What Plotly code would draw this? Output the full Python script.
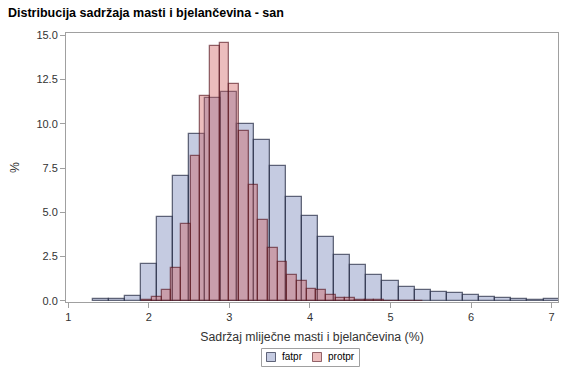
import plotly.graph_objects as go

# fatpr histogram (bin width 0.2), percentages
fat_x = [1.4, 1.6, 1.8, 2.0, 2.2, 2.4, 2.6, 2.8, 3.0, 3.2, 3.4, 3.6, 3.8, 4.0, 4.2,
         4.4, 4.6, 4.8, 5.0, 5.2, 5.4, 5.6, 5.8, 6.0, 6.2, 6.4, 6.6, 6.8, 7.0]
fat_y = [0.1, 0.1, 0.28, 2.1, 4.75, 7.05, 9.4, 11.45, 11.77, 9.97, 9.06, 7.61, 5.85, 4.78, 3.59,
         2.58, 2.01, 1.45, 1.11, 0.77, 0.6, 0.52, 0.42, 0.32, 0.25, 0.15, 0.1, 0.04, 0.1]

# protpr histogram (bin width 0.12), percentages
prot_x = [1.98, 2.10, 2.22, 2.34, 2.46, 2.58, 2.70, 2.82, 2.94, 3.06, 3.18, 3.30, 3.42, 3.54, 3.66,
          3.78, 3.90, 4.02, 4.14, 4.26, 4.38, 4.50, 4.62, 4.74, 4.86, 4.98, 5.10, 5.22, 5.34]
prot_y = [0.05, 0.25, 0.6, 1.85, 4.35, 8.2, 11.55, 14.38, 14.53, 12.22, 9.57, 6.52, 4.55, 2.97, 2.18,
          1.45, 1.11, 0.66, 0.6, 0.32, 0.15, 0.15, 0.04, 0.04, 0.04, 0.02, 0.02, 0.02, 0.02]

series_names = ["fatpr", "protpr"]
y_ticks = [0, 2.5, 5, 7.5, 10, 12.5, 15]
x_ticks = [1, 2, 3, 4, 5, 6, 7]

FAT_FILL = "rgba(111,126,179,0.4)"
FAT_LINE = "rgba(40,46,70,0.7)"
PROT_FILL = "rgba(208,91,91,0.4)"
PROT_LINE = "rgba(80,15,25,0.6)"

W, H = 566, 377
ML, MR, MT, MB = 66, 8, 33, 75
PW, PH = W - ML - MR, H - MT - MB


def px_x(px):
    return (px - ML) / PW


def px_y(py):
    return (H - MB - py) / PH


fig = go.Figure()
fig.add_trace(go.Bar(
    x=fat_x, y=fat_y, width=0.2, name=series_names[0],
    marker=dict(color=FAT_FILL, line=dict(color=FAT_LINE, width=1.3)),
))
fig.add_trace(go.Bar(
    x=prot_x, y=prot_y, width=0.12, name=series_names[1],
    marker=dict(color=PROT_FILL, line=dict(color=PROT_LINE, width=1.3)),
))

font = "Liberation Sans, Arial, sans-serif"

# compact legend drawn as a box with swatches and real text labels
shapes = [
    dict(type="rect", xref="paper", yref="paper",
         x0=px_x(261.5), x1=px_x(359.5), y0=px_y(366.5), y1=px_y(348.5),
         line=dict(color="#A0A0A0", width=1), fillcolor="white", layer="above"),
    dict(type="rect", xref="paper", yref="paper",
         x0=px_x(266.5), x1=px_x(275.5), y0=px_y(361.5), y1=px_y(352.5),
         line=dict(color=FAT_LINE, width=1), fillcolor=FAT_FILL, layer="above"),
    dict(type="rect", xref="paper", yref="paper",
         x0=px_x(312.5), x1=px_x(321.5), y0=px_y(361.5), y1=px_y(352.5),
         line=dict(color=PROT_LINE, width=1), fillcolor=PROT_FILL, layer="above"),
]
annotations = [
    dict(text=series_names[0], xref="paper", yref="paper", x=px_x(280), y=px_y(357),
         xanchor="left", yanchor="middle", showarrow=False,
         font=dict(family=font, size=10, color="black")),
    dict(text=series_names[1], xref="paper", yref="paper", x=px_x(326), y=px_y(357),
         xanchor="left", yanchor="middle", showarrow=False,
         font=dict(family=font, size=10, color="black")),
]

fig.update_layout(
    barmode="overlay",
    width=W, height=H,
    margin=dict(l=ML, r=MR, t=MT, b=MB, autoexpand=False),
    paper_bgcolor="white", plot_bgcolor="white",
    font=dict(family=font, size=11, color="#333333"),
    title=dict(text="<b>Distribucija sadržaja masti i bjelančevina - san</b>",
               x=8 / W, xanchor="left", xref="container",
               y=1 - 13 / H, yanchor="middle", yref="container",
               automargin=False,
               font=dict(family=font, size=12.5, color="black")),
    showlegend=False,
    shapes=shapes,
    annotations=annotations,
    bargap=0,
)
fig.update_xaxes(
    range=[0.971, 7.08], tickvals=x_ticks, ticktext=[str(v) for v in x_ticks],
    showline=True, linecolor="#A0A0A0", linewidth=1, mirror=True,
    ticks="outside", ticklen=5, tickcolor="#A0A0A0",
    showgrid=False, zeroline=False, automargin=False,
    tickfont=dict(size=11, color="#333333"),
    title=dict(text="Sadržaj mliječne masti i bjelančevina (%)",
               font=dict(size=12.3, color="#333333"), standoff=10),
)
fig.update_yaxes(
    range=[-0.06, 15.12], tickvals=y_ticks, ticktext=[f"{v:.1f}" for v in y_ticks],
    showline=True, linecolor="#A0A0A0", linewidth=1, mirror=True,
    ticks="outside", ticklen=5, tickcolor="#A0A0A0",
    showgrid=False, zeroline=False, automargin=False,
    tickfont=dict(size=11, color="#333333"),
    title=dict(text="%", font=dict(size=12.3, color="#333333"), standoff=14),
)

fig.write_html(
    "out.html",
    config={"displayModeBar": False},
    post_script=["document.body.style.margin='0';document.body.style.overflow='hidden';"],
)
